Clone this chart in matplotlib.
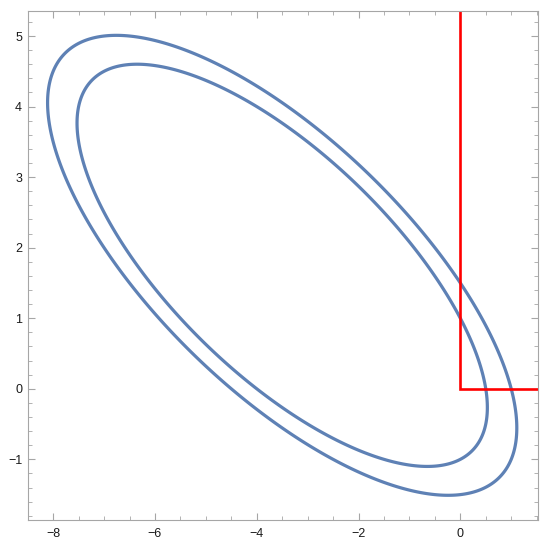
import numpy as np
import matplotlib
matplotlib.use("Agg")
import matplotlib.pyplot as plt
from matplotlib.ticker import MultipleLocator

plt.rcParams['font.family'] = ['Liberation Sans', 'DejaVu Sans']

# Quadratic form: a*x^2 + b*x*y + c*y^2 + d*x + e*y  (contour levels below)
coef_a, coef_b, coef_c, coef_d, coef_e = 1.0, 2.0, 2.0, 3.5, 0.0
levels = [2.0, 4.5]

# Red boundary polyline (quadrant edge)
red_x = [0, 0, 10]
red_y = [10, 0, 0]

xlim = (-8.5, 1.52)
ylim = (-1.86, 5.355)
x_major = [-8, -6, -4, -2, 0]
y_major = [-1, 0, 1, 2, 3, 4, 5]

blue = (0.368417, 0.506779, 0.709798)
gray = "#a6a6a6"

fig = plt.figure(figsize=(5.5, 5.49), dpi=100)
ax = fig.add_axes([0.0504, 0.0528, 0.9272, 0.9272])

xs = np.linspace(xlim[0], xlim[1], 800)
ys = np.linspace(ylim[0], ylim[1], 800)
X, Y = np.meshgrid(xs, ys)
Z = coef_a * X**2 + coef_b * X * Y + coef_c * Y**2 + coef_d * X + coef_e * Y
ax.contour(X, Y, Z, levels=levels, colors=[blue], linewidths=2.3)

ax.plot(red_x, red_y, color=(1, 0, 0), lw=1.9, solid_joinstyle="miter")

ax.set_xlim(*xlim)
ax.set_ylim(*ylim)
ax.set_xticks(x_major)
ax.set_yticks(y_major)
ax.xaxis.set_minor_locator(MultipleLocator(0.5))
ax.yaxis.set_minor_locator(MultipleLocator(0.2))
ax.tick_params(which="both", direction="in", top=True, right=True, color=gray,
               labelcolor="#1a1a1a", labelsize=9)
ax.tick_params(which="major", length=5, width=0.8)
ax.tick_params(which="minor", length=3, width=0.6)
ax.tick_params(axis="x", pad=6)
ax.tick_params(axis="y", pad=4)
for s in ax.spines.values():
    s.set_color(gray)
    s.set_linewidth(0.8)

fig.savefig("out.png", dpi=100)
